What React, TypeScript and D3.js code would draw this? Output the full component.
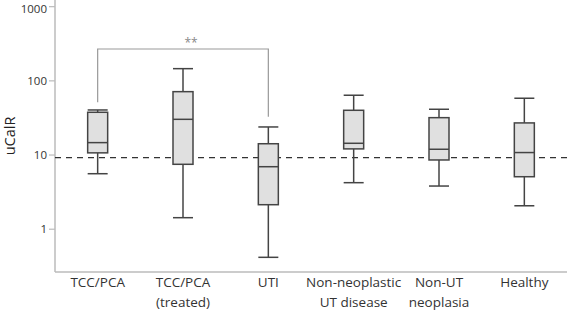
import React from "react";
import * as d3 from "d3";

const categories = [
  ["TCC/PCA"],
  ["TCC/PCA", "(treated)"],
  ["UTI"],
  ["Non-neoplastic", "UT disease"],
  ["Non-UT", "neoplasia"],
  ["Healthy"],
];
const whiskerLow = [5.6, 1.43, 0.418, 4.24, 3.82, 2.07];
const q1 = [10.7, 7.5, 2.14, 12.1, 8.58, 5.1];
const median = [14.7, 30.3, 6.96, 14.4, 11.96, 10.8];
const q3 = [37.7, 71.5, 14.2, 40.1, 31.9, 27.1];
const whiskerHigh = [40.5, 146, 23.9, 64, 41.4, 58.3];
const yTicks = [1, 10, 100, 1000];
const cutoff = 9.2;
const sigPair = [0, 2];
const sigLabel = "**";
const sigTops = [102.3, 116.7];

const W = 567;
const H = 311;
const left = 55;
const bottom = 272;
const font = "'Open Sans', 'DejaVu Sans', sans-serif";

export default function App() {
  const y = d3.scaleLog().domain([0.265, 1230]).range([bottom, 0]);
  const x = d3
    .scaleBand<number>()
    .domain(categories.map((_, i) => i))
    .range([left, W])
    .padding(0);
  const bw = 20;
  const cx = (i: number) => (x(i) as number) + x.bandwidth() / 2;
  const boxStroke = "#444";
  const sigY = 49;
  const fs = 11.5;

  return (
    <svg
      width={W}
      height={H}
      style={{ position: "absolute", left: 0, top: 0, background: "#fff" }}
      fontFamily={font}
    >
      {/* axes */}
      <line x1={left} x2={left} y1={0} y2={bottom} stroke="#bbb" strokeWidth={1.5} />
      <line x1={left} x2={W} y1={bottom} y2={bottom} stroke="#bbb" strokeWidth={1.5} />
      {yTicks.map((t) => (
        <g key={t}>
          <line x1={left - 6} x2={left} y1={y(t)} y2={y(t)} stroke="#bbb" strokeWidth={1.2} />
          <text
            x={left - 8}
            y={Math.max(y(t) + fs * 0.35, fs * 1.1)}
            textAnchor="end"
            fontSize={fs}
            fill="#333"
          >
            {d3.format("d")(t)}
          </text>
        </g>
      ))}
      <text
        transform={`translate(15,${136}) rotate(-90)`}
        textAnchor="middle"
        fontSize={14.5}
        fill="#222"
      >
        uCalR
      </text>

      {/* significance bracket */}
      <path
        d={`M${cx(sigPair[0])},${sigTops[0]}V${sigY}H${cx(sigPair[1])}V${sigTops[1]}`}
        fill="none"
        stroke="#999"
        strokeWidth={1.2}
      />
      <text x={191} y={sigY - 2} textAnchor="middle" fontSize={12} fill="#888">
        {sigLabel}
      </text>

      {/* cutoff line */}
      <line
        x1={left}
        x2={W}
        y1={y(cutoff)}
        y2={y(cutoff)}
        stroke="#333"
        strokeWidth={1.3}
        strokeDasharray="6,5"
      />

      {/* boxes */}
      {categories.map((_, i) => {
        const c = cx(i);
        return (
          <g key={i} stroke={boxStroke} strokeWidth={1.5}>
            <line x1={c} x2={c} y1={y(whiskerHigh[i])} y2={y(q3[i])} />
            <line x1={c} x2={c} y1={y(q1[i])} y2={y(whiskerLow[i])} />
            <line x1={c - bw / 2} x2={c + bw / 2} y1={y(whiskerHigh[i])} y2={y(whiskerHigh[i])} />
            <line x1={c - bw / 2} x2={c + bw / 2} y1={y(whiskerLow[i])} y2={y(whiskerLow[i])} />
            <rect
              x={c - bw / 2}
              y={y(q3[i])}
              width={bw}
              height={y(q1[i]) - y(q3[i])}
              fill="#e0e0e0"
            />
            <line x1={c - bw / 2} x2={c + bw / 2} y1={y(median[i])} y2={y(median[i])} />
          </g>
        );
      })}

      {/* category labels */}
      {categories.map((lines, i) => (
        <text key={i} textAnchor="middle" fontSize={13.5} fill="#333">
          {lines.map((l, j) => (
            <tspan key={j} x={cx(i)} y={287 + j * 19.7}>
              {l}
            </tspan>
          ))}
        </text>
      ))}
    </svg>
  );
}
